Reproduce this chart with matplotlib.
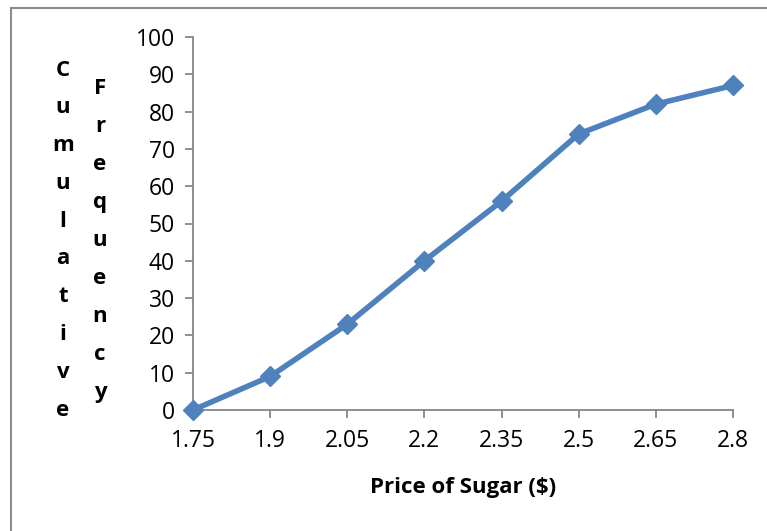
import matplotlib
matplotlib.use("Agg")
import matplotlib.pyplot as plt
from matplotlib.lines import Line2D

# Chart data
prices = ["1.75", "1.9", "2.05", "2.2", "2.35", "2.5", "2.65", "2.8"]
cum_freq = [0, 9, 23, 40, 56, 74, 82, 87]
y_ticks = list(range(0, 101, 10))

plt.rcParams['font.family'] = ['Open Sans', 'DejaVu Sans']

W, H = 767, 531
fig = plt.figure(figsize=(W / 100, H / 100), dpi=100)
ax = fig.add_axes([193 / W, 1 - 410 / H, (733 - 193) / W, (410 - 37) / H])

x = list(range(len(prices)))
ax.plot(x, cum_freq, color='#4F81BD', linewidth=4, marker='D',
        markersize=10, markerfacecolor='#4F81BD', markeredgecolor='#4F81BD',
        clip_on=False, zorder=5)

ax.set_xlim(0, len(prices) - 1)
ax.set_ylim(0, 100)
ax.set_xticks(x)
ax.set_xticklabels(prices)
ax.set_yticks(y_ticks)

for s in ['top', 'right']:
    ax.spines[s].set_visible(False)
for s in ['left', 'bottom']:
    ax.spines[s].set_color('#868686')
    ax.spines[s].set_linewidth(1.3)
ax.tick_params(axis='both', direction='out', length=6, width=1.3,
               color='#868686', labelsize=16.5, labelcolor='black')
ax.tick_params(axis='x', pad=8)
ax.tick_params(axis='y', pad=7)

fig.text(463 / W, 1 - 487 / H, "Price of Sugar ($)", ha='center', va='center',
         fontsize=16, fontweight='bold')

# stacked y-axis title, one letter per line
for i, ch in enumerate("Cumulative"):
    fig.text(63 / W, 1 - (70 + i * 37.8) / H, ch, ha='center', va='center',
             fontsize=16, fontweight='bold')
for i, ch in enumerate("Frequency"):
    fig.text(100 / W, 1 - (88 + i * 38.1) / H, ch, ha='center', va='center',
             fontsize=16, fontweight='bold')

# chart area border (left and top edges visible)
fig.add_artist(Line2D([11 / W, 11 / W], [0, 1 - 8 / H], transform=fig.transFigure,
                      color='#8C8C8C', linewidth=1.5))
fig.add_artist(Line2D([11 / W, 1], [1 - 8 / H, 1 - 8 / H], transform=fig.transFigure,
                      color='#8C8C8C', linewidth=1.5))

fig.savefig("out.png", dpi=100)
